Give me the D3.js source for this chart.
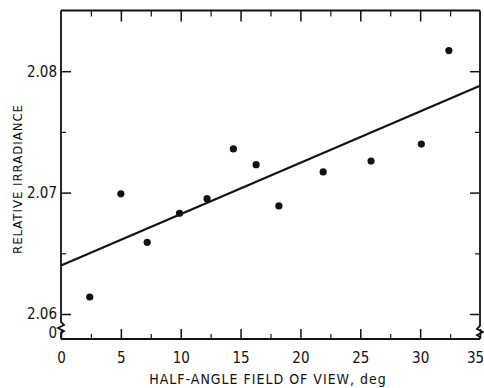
<!DOCTYPE html>
<html><head><meta charset="utf-8">
<script src="https://cdn.jsdelivr.net/npm/d3@7"></script>
<style>
html,body{margin:0;padding:0;background:#fff;}
text{font-family:"Liberation Sans Narrow","DejaVu Sans Condensed","Arial Narrow",sans-serif;fill:#111;}
</style></head>
<body>
<script>
// Data
const angle = [2.4, 5.0, 7.2, 9.9, 12.2, 14.4, 16.3, 18.2, 21.9, 25.9, 30.1, 32.4];
const irradiance = [2.0614, 2.0699, 2.0659, 2.0683, 2.0695, 2.0736, 2.0723, 2.0689, 2.0717, 2.0726, 2.0740, 2.0817];
const fitX = [0, 35];
const fitY = [2.0640, 2.0788];
const xTicks = [0, 5, 10, 15, 20, 25, 30, 35];
const xMinor = [2.5, 7.5, 12.5, 17.5, 22.5, 27.5, 32.5];
const yTicks = [2.06, 2.07, 2.08];
const yMinor = [2.065, 2.075];
const yTickLabels = ["2.06", "2.07", "2.08"];

const W = 484, H = 388;
const svg = d3.select("body").append("svg").attr("width", W).attr("height", H);

const x = d3.scaleLinear().domain([0, 35]).range([61, 480]);
const y = d3.scaleLinear().domain([2.06, 2.085]).range([314, 10.5]);
const yBottom = 339; // the broken "0" baseline

const stroke = "#111";
const g = svg.append("g");

// Frame: top, right, left with axis break, bottom
const pLeft = x(0), pRight = x(35), pTop = y(2.085);
g.append("path").attr("fill", "none").attr("stroke", stroke).attr("stroke-width", 2)
  .attr("d", `M${pLeft},${pTop}H${pRight}`);
g.append("path").attr("fill", "none").attr("stroke", stroke).attr("stroke-width", 2)
  .attr("d", `M${pLeft},${yBottom}H${pRight}`);
// left axis with zigzag break
g.append("path").attr("fill", "none").attr("stroke", stroke).attr("stroke-width", 1.8)
  .attr("d", `M${pLeft},${pTop}V${y(2.06)+8}l3,3l-6,3l6,3l-3,2V${yBottom}`);
// right axis with zigzag break
g.append("path").attr("fill", "none").attr("stroke", stroke).attr("stroke-width", 1.8)
  .attr("d", `M${pRight},${pTop}V${y(2.06)+12}l-3,3l6,3l-6,3l3,2V${yBottom}`);

// Bottom axis
const xAxisB = d3.axisBottom(x).tickValues(xTicks).tickSize(-10).tickPadding(13).tickFormat(d3.format("d"));
const gb = svg.append("g").attr("transform", `translate(0,${yBottom})`).call(xAxisB);
gb.select(".domain").remove();
gb.selectAll(".tick line").attr("stroke", stroke).attr("stroke-width", 1.5);
gb.selectAll(".tick text").style("font-size", "15px").attr("font-family", null)
  .attr("dx", d => d === 35 ? -5 : 0);
const gbm = svg.append("g").attr("transform", `translate(0,${yBottom})`)
  .call(d3.axisBottom(x).tickValues(xMinor).tickSize(-5).tickFormat(""));
gbm.select(".domain").remove();
gbm.selectAll(".tick line").attr("stroke", stroke).attr("stroke-width", 1.2);

// Top axis
const gt = svg.append("g").attr("transform", `translate(0,${pTop})`)
  .call(d3.axisTop(x).tickValues(xTicks.slice(1, -1)).tickSize(-11).tickFormat(""));
gt.select(".domain").remove();
gt.selectAll(".tick line").attr("stroke", stroke).attr("stroke-width", 1.5);
const gtm = svg.append("g").attr("transform", `translate(0,${pTop})`)
  .call(d3.axisTop(x).tickValues(xMinor).tickSize(-6).tickFormat(""));
gtm.select(".domain").remove();
gtm.selectAll(".tick line").attr("stroke", stroke).attr("stroke-width", 1.2);

// Left axis
const gl = svg.append("g").attr("transform", `translate(${pLeft},0)`)
  .call(d3.axisLeft(y).tickValues(yTicks).tickSize(-10).tickPadding(5).tickFormat((d, i) => yTickLabels[i]));
gl.select(".domain").remove();
gl.selectAll(".tick line").attr("stroke", stroke).attr("stroke-width", 1.5);
gl.selectAll(".tick text").style("font-size", "15px").attr("x", -4).attr("font-family", null);
const glm = svg.append("g").attr("transform", `translate(${pLeft},0)`)
  .call(d3.axisLeft(y).tickValues(yMinor).tickSize(-5).tickFormat(""));
glm.select(".domain").remove();
glm.selectAll(".tick line").attr("stroke", stroke).attr("stroke-width", 1.2);
// the "0" label of the broken axis
svg.append("text").attr("x", pLeft - 4).attr("y", yBottom - 1).attr("text-anchor", "end")
  .style("font-size", "15px").text("0");

// Right axis
const gr = svg.append("g").attr("transform", `translate(${pRight},0)`)
  .call(d3.axisRight(y).tickValues(yTicks).tickSize(-10).tickFormat(""));
gr.select(".domain").remove();
gr.selectAll(".tick line").attr("stroke", stroke).attr("stroke-width", 1.5);
const grm = svg.append("g").attr("transform", `translate(${pRight},0)`)
  .call(d3.axisRight(y).tickValues(yMinor).tickSize(-5).tickFormat(""));
grm.select(".domain").remove();
grm.selectAll(".tick line").attr("stroke", stroke).attr("stroke-width", 1.2);

// Fit line
const fit = fitX.map((v, i) => [v, fitY[i]]);
svg.append("path").datum(fit).attr("fill", "none").attr("stroke", stroke).attr("stroke-width", 2.2)
  .attr("d", d3.line().x(d => x(d[0])).y(d => y(d[1])));

// Points
svg.append("g").selectAll("circle").data(angle.map((a, i) => [a, irradiance[i]])).join("circle")
  .attr("cx", d => x(d[0])).attr("cy", d => y(d[1])).attr("r", 3.6).attr("fill", stroke);

// Axis titles
svg.append("text").attr("x", 268).attr("y", 384).attr("text-anchor", "middle")
  .style("font-size", "14px").style("letter-spacing", "1px")
  .text("HALF-ANGLE FIELD OF VIEW, deg");
svg.append("text").attr("transform", "translate(22,179) rotate(-90)").attr("text-anchor", "middle")
  .style("font-size", "13px").style("letter-spacing", "1px")
  .text("RELATIVE IRRADIANCE");
</script>
</body></html>
